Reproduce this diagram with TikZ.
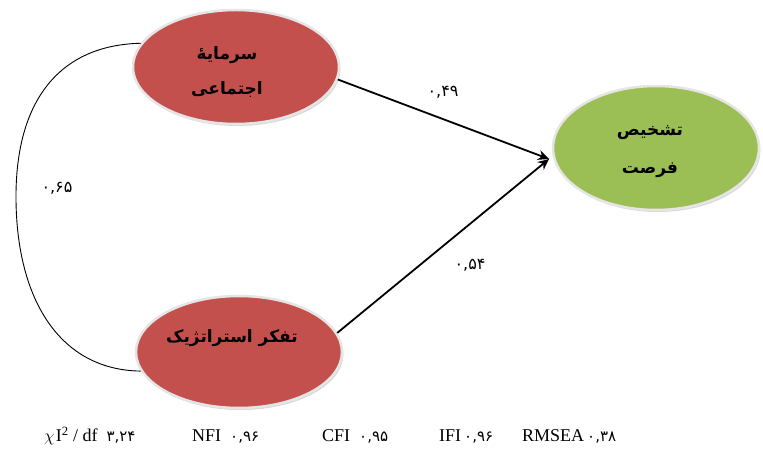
\documentclass[tikz,border=0pt]{standalone}
\usepackage{fontspec}
\setmainfont{Liberation Serif}
\newfontfamily\arabicfont[Script=Arabic]{DejaVu Sans}
\TeXXeTstate=1
\usetikzlibrary{shapes.geometric,arrows.meta,shadows}
\definecolor{redfill}{RGB}{196,80,78}
\definecolor{greenfill}{RGB}{155,190,85}
\begin{document}
\begin{tikzpicture}[x=1pt,y=1pt]
\useasboundingbox (0,0) rectangle (763,449);
\tikzset{
  latent/.style={ellipse, draw=white!90!black, line width=2.5pt, inner sep=0pt,
    drop shadow={shadow xshift=1.5pt, shadow yshift=-2pt, fill=black!30}},
  conn/.style={line width=1.8pt, -{Stealth[length=11pt,width=10pt]}},
  corr/.style={line width=0.9pt},
  ptext/.style={font=\arabicfont\bfseries\fontsize{17}{20}\selectfont, inner sep=0pt},
  coef/.style={font=\arabicfont\fontsize{16}{18}\selectfont, inner sep=0pt},
  stat/.style={font=\fontsize{18}{20}\selectfont, inner sep=0pt, anchor=base west}
}
\newcommand{\pd}[1]{{\arabicfont\fontsize{15}{17}\selectfont #1}}
\node[latent, fill=redfill, minimum width=206pt, minimum height=114pt] (a) at (236,382) {};
\node[latent, fill=greenfill, minimum width=206pt, minimum height=124pt] (c) at (656,301) {};
\node[latent, fill=redfill, minimum width=206pt, minimum height=112pt] (b) at (239,97) {};

\node[ptext] (a1) at (227,394) {\beginR سرمایهٔ\endR};
\node[ptext] (a2) at (227,359) {\beginR اجتماعی\endR};
\node[ptext] (c1) at (650,316) {\beginR تشخیص\endR};
\node[ptext] (c2) at (650,279) {\beginR فرصت\endR};
\node[ptext] (b1) at (232,111) {\beginR تفکر استراتژیک\endR};

\coordinate (tip) at (549,290);
\draw[conn] (a.-7) -- (tip);
\draw[conn] (b.11) -- (tip);
\draw[corr] (a.166) .. controls (60,404) and (15,349) .. (16,249)
  .. controls (17,149) and (60,79) .. (b.191);

\node[coef] (l1) at (443,357) {۰,۴۹};
\node[coef] (l2) at (470,184) {۰,۵۴};
\node[coef] (l3) at (57,261) {۰,۶۵};

\node[stat] (s1) at (44,7) {$\chi$\kern1ptI\textsuperscript{2} /\ df\ \ \pd{۳,۲۴}};
\node[stat] (s2) at (192,7) {NFI\ \ \pd{۰,۹۶}};
\node[stat] (s3) at (322,7) {CFI\ \ \pd{۰,۹۵}};
\node[stat] (s4) at (439,7) {IFI\,\pd{۰,۹۶}};
\node[stat] (s5) at (522,7) {RMSEA\,\pd{۰,۳۸}};
\end{tikzpicture}
\end{document}
